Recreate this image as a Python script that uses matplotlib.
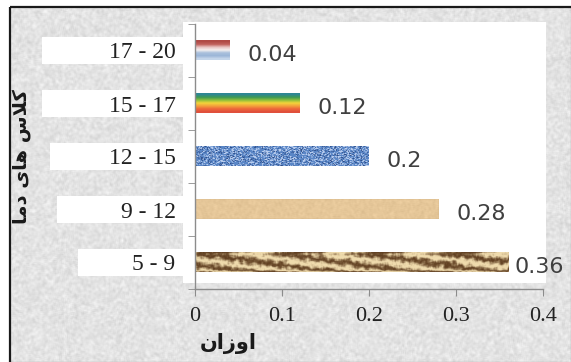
import numpy as np
import matplotlib.pyplot as plt
from matplotlib.patches import Rectangle
from matplotlib.transforms import blended_transform_factory

# weights per temperature class
categories = ["5 - 9", "9 - 12", "12 - 15", "15 - 17", "17 - 20"]
weights = [0.36, 0.28, 0.2, 0.12, 0.04]
x_ticks = [0, 0.1, 0.2, 0.3, 0.4]
x_tick_labels = ["0", "0.1", "0.2", "0.3", "0.4"]

# titles written with arabic presentation forms in visual order,
# since matplotlib does no shaping / bidi
y_title = "\uFE8E\uFEE3\uFEA9 \uFBFC\uFE8E\uFEEB \uFEB1\uFEFC\uFB90"   # کلاس های دما
x_title = "\uFEE5\uFE8D\uFEAF\uFEED\uFE8D"                              # اوزان

W, H = 571, 362
rng = np.random.default_rng(7)


def smooth(a, k):
    # cheap box blur along both axes
    ker = np.ones(k) / k
    a = np.apply_along_axis(lambda r: np.convolve(r, ker, mode="same"), 1, a)
    a = np.apply_along_axis(lambda c: np.convolve(c, ker, mode="same"), 0, a)
    return a


def stripes(colors, n=60):
    img = np.array([[plt.matplotlib.colors.to_rgb(c)] for c in colors])
    return np.repeat(img, n, axis=1)


def speckle(base, light, dark, h=20, w=200):
    n = rng.random((h, w))
    img = np.tile(np.array(plt.matplotlib.colors.to_rgb(base)), (h, w, 1))
    img[n > 0.72] = plt.matplotlib.colors.to_rgb(light)
    img[n < 0.15] = plt.matplotlib.colors.to_rgb(dark)
    return img


def sand(h=20, w=300):
    n = smooth(rng.random((h, w)), 3)
    base = np.array([0.90, 0.78, 0.60])
    return np.clip(base[None, None, :] + (n[..., None] - 0.5) * 0.12, 0, 1)


def wood(h=24, w=400):
    yy, xx = np.mgrid[0:h, 0:w]
    n = smooth(rng.random((h, w)), 5)
    t = np.sin(xx * 0.06 - yy * 0.45 + n * 10) * 0.5 + 0.5
    t = 0.7 * t + 0.3 * smooth(rng.random((h, w)), 3)
    t = np.clip((t - 0.5) * 1.5 + 0.55, 0, 1)
    dark = np.array([0.38, 0.25, 0.13])
    light = np.array([0.94, 0.86, 0.68])
    return dark + (light - dark) * t[..., None]


textures = [
    wood(),
    sand(),
    speckle("#5a86c6", "#b9cdee", "#2f4f8a"),
    stripes(["#2f8794", "#3e9a54", "#8ebf3c", "#f3d43a", "#f4a23c", "#ee6a3a", "#e0503c"]),
    stripes(["#b04a46", "#c0605c", "#e8c3c2", "#f5f0f0", "#a9c0dc", "#9cb6d8", "#c4d5ea"]),
]

fig = plt.figure(figsize=(W / 100, H / 100), dpi=100)

# gray paper background, frame and white plot area
bg = fig.add_axes([0, 0, 1, 1], zorder=0)
bg.set_xlim(0, W)
bg.set_ylim(H, 0)
bg.axis("off")
paper = 0.89 + (smooth(rng.random((H, W)), 3) - 0.5) * 0.22
paper = np.clip(paper, 0, 1)
bg.imshow(paper, cmap="gray", vmin=0, vmax=1, extent=[10, W, H, 7],
          aspect="auto", interpolation="bilinear")
bg.add_patch(Rectangle((10, 7), W + 20, H + 20, fill=False, ec="#1a1a1a", lw=1.6))
bg.add_patch(Rectangle((183, 22), 363, 261, fc="white", ec="none"))

ax = fig.add_axes([195 / W, 73 / H, 348 / W, 265 / H], zorder=1)
ax.patch.set_alpha(0)

pos = np.arange(len(categories))
bars = ax.barh(pos, weights, height=0.36, color="none", zorder=3)
for bar, tex in zip(bars, textures):
    x0, y0 = bar.get_x(), bar.get_y()
    ax.imshow(tex, extent=[x0, x0 + bar.get_width(), y0, y0 + bar.get_height()],
              aspect="auto", interpolation="bilinear", zorder=2)

ax.set_xlim(0, 0.4)
ax.set_ylim(-0.5, len(categories) - 0.5)

# value labels, kept inside the frame on the right
for bar, v in zip(bars, weights):
    yc = bar.get_y() + bar.get_height() / 2
    x_end = ax.transData.transform((v, yc))[0]
    x_lab = min(x_end + 18, W - 56)
    xd = ax.transData.inverted().transform((x_lab, 0))[0]
    ax.text(xd, yc - 0.08, f"{v:g}", va="center", ha="left", fontsize=16,
            color="#404040", family="DejaVu Sans", clip_on=False)

# white boxes behind category labels
box_left = [78, 57, 50, 42, 42]
tr = blended_transform_factory(fig.transFigure, ax.transData)
for p, left in zip(pos, box_left):
    ax.add_patch(Rectangle((left / W, p - 0.26), (183 - left) / W, 0.52,
                           transform=tr, fc="white", ec="none", clip_on=False, zorder=0))

ax.set_yticks(pos)
ax.set_yticklabels(categories, family="Liberation Serif", fontsize=17, color="#222222")
ax.set_yticks(np.arange(-0.5, len(categories)), minor=True)
ax.tick_params(axis="y", which="major", length=0, pad=14)
ax.tick_params(axis="y", which="minor", length=5, direction="out", color="#8c8c8c")

ax.set_xticks(x_ticks)
ax.set_xticklabels(x_tick_labels, family="Liberation Serif", fontsize=16, color="#222222")
ax.tick_params(axis="x", length=5, direction="out", color="#8c8c8c", pad=8)

for side in ["top", "right"]:
    ax.spines[side].set_visible(False)
for side in ["left", "bottom"]:
    ax.spines[side].set_color("#8c8c8c")
    ax.spines[side].set_linewidth(1)

fig.text(228 / W, 1 - 344 / H, x_title, ha="center", va="center", fontsize=15,
         fontweight="bold", family="DejaVu Sans", color="#1a1a1a")
fig.text(22 / W, 1 - 157 / H, y_title, ha="center", va="center", fontsize=14,
         fontweight="bold", family="DejaVu Sans", color="#1a1a1a", rotation=90)

fig.savefig("out.png", dpi=100)
